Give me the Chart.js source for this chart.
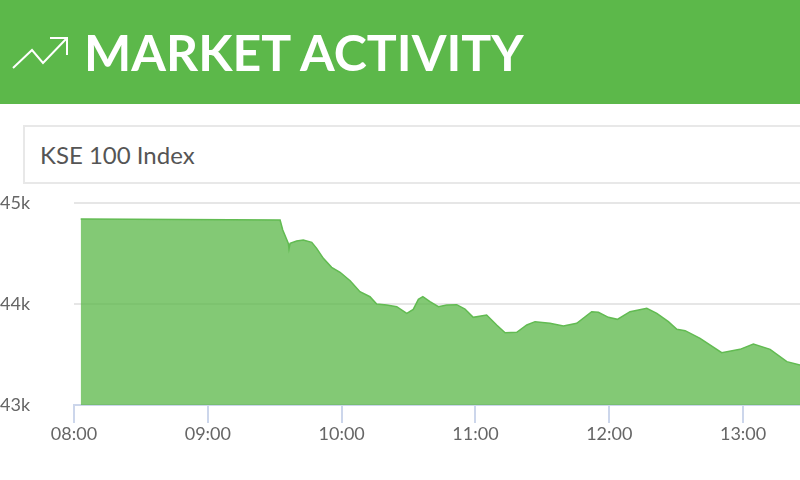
<!DOCTYPE html>
<html>
<head>
<meta charset="utf-8">
<title>Market Activity</title>
<script src="https://cdn.jsdelivr.net/npm/chart.js@4/dist/chart.umd.min.js"></script>
<style>
  html, body { margin: 0; padding: 0; background: #fff; overflow: hidden; }
  .page { position: relative; width: 800px; height: 480px; overflow: hidden; font-family: Lato, sans-serif; }
  .header { position: absolute; left: 0; top: 0; width: 800px; height: 104px; background: #5cb84a; }
  .header svg { position: absolute; left: 0; top: 0; }
  .header h1 { position: absolute; left: 84px; top: 21px; margin: 0; font-size: 50px; line-height: 62px; font-weight: 700; color: #fff; white-space: nowrap; }
  .picker { position: absolute; left: 23px; top: 125px; width: 800px; height: 55px; border: 2px solid #e8e8e8; font-size: 24px; line-height: 55px; color: #555; padding-left: 15px; }
  canvas { position: absolute; left: 0; top: 0; }
</style>
</head>
<body>
<div class="page">
  <div class="header">
    <svg width="80" height="104" fill="none" stroke="#fff" stroke-width="2">
      <path d="M13 68 L32 50 L43 63 L67 38 M50 38 L67 38 L67 55"/>
    </svg>
    <h1>MARKET ACTIVITY</h1>
  </div>
  <div class="picker">KSE 100 Index</div>
  <canvas id="chartOne" width="800" height="480"></canvas>
</div>
<script>
// minutes since midnight
const times = [483, 572.4, 573.6, 576.1, 576.4, 576.9, 579.8, 582.8, 586.6, 588.8, 591.8, 595.5, 599.3, 603.8,
  608.2, 612.7, 615.7, 620.2, 624.7, 629.2, 632.1, 634.4, 636.4, 639.6, 643.4, 647.1, 651.6, 655.3, 659, 665,
  669.5, 673.3, 678.5, 683, 686.7, 693.4, 699.4, 705.4, 712.1, 715.1, 719.6, 723.6, 729.3, 736.8, 741.3, 746.5,
  750.3, 754, 760.7, 770.4, 778.6, 784.6, 792.1, 799.6, 805.5];
const values = [44841, 44831, 44732, 44600, 44544, 44600, 44624, 44634, 44610, 44551, 44452, 44363, 44314, 44231,
  44122, 44072, 44000, 43990, 43973, 43908, 43947, 44046, 44072, 44023, 43973, 43990, 43993, 43950, 43868, 43891,
  43792, 43716, 43720, 43792, 43825, 43809, 43782, 43809, 43924, 43918, 43868, 43848, 43924, 43957, 43908, 43825,
  43749, 43736, 43660, 43518, 43551, 43604, 43551, 43429, 43396];
const yTicks = [43000, 44000, 45000];

const points = times.map((t, i) => ({ x: t, y: values[i] }));

function clock(m) {
  const h = Math.floor(m / 60);
  return String(h).padStart(2, "0") + ":" + String(m % 60).padStart(2, "0");
}

new Chart(document.getElementById("chartOne"), {
  type: "line",
  data: {
    datasets: [
      {
        label: "KSE 100 Index",
        data: points,
        borderColor: "#62bb52",
        borderWidth: 1.5,
        backgroundColor: "rgba(92,184,74,0.76)",
        fill: "start",
        pointRadius: 0,
        tension: 0,
      },
    ],
  },
  options: {
    responsive: false,
    animation: false,
    layout: { padding: { top: 203, right: 0, bottom: 0, left: 0 } },
    plugins: { legend: { display: false }, tooltip: { enabled: false } },
    scales: {
      x: {
        type: "linear",
        min: 480,
        max: 805.5,
        afterFit: (axis) => { axis.height = 75; },
        afterBuildTicks: (axis) => {
          axis.ticks = [480, 540, 600, 660, 720, 780].map((v) => ({ value: v }));
        },
        border: { color: "#ccd6eb", width: 2 },
        grid: { drawOnChartArea: false, color: "#ccd6eb", lineWidth: 2, tickLength: 18 },
        ticks: {
          callback: (v) => clock(v),
          color: "#666",
          font: { family: "Lato", size: 18 },
          maxRotation: 0,
          padding: 0,
        },
      },
      y: {
        min: 43000,
        max: 45000,
        afterFit: (axis) => { axis.width = 74; },
        afterBuildTicks: (axis) => {
          axis.ticks = yTicks.map((v) => ({ value: v }));
        },
        border: { display: false },
        grid: { color: "#e6e6e6", lineWidth: 2, drawTicks: false },
        ticks: {
          callback: (v) => v / 1000 + "k",
          color: "#666",
          font: { family: "Lato", size: 18 },
          crossAlign: "far",
          padding: 0,
        },
      },
    },
  },
});
</script>
</body>
</html>
